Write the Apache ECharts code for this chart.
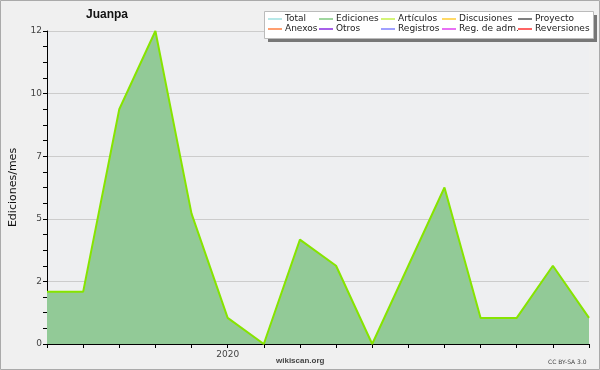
<!DOCTYPE html>
<html><head><meta charset="utf-8">
<script src="https://cdn.jsdelivr.net/npm/echarts@6/dist/echarts.min.js"></script>
<style>html,body{margin:0;padding:0;background:#f0f0f0}#c{width:600px;height:370px}</style>
</head><body><div id="c"></div>
<script>
// ---- data ----
const months = ['2019-08','2019-09','2019-10','2019-11','2019-12','2020-01','2020-02','2020-03','2020-04','2020-05','2020-06','2020-07','2020-08','2020-09','2020-10','2020-11'];
const edicionesValues = [2,2,9,12,5,1,0,4,3,0,3,6,1,1,3,1];
const articulosValues = [2,2,9,12,5,1,0,4,3,0,3,6,1,1,3,1];
const yTickLabels = ['0','2','5','7','10','12'];
const legendNames = ['Total','Ediciones','Artículos','Discusiones','Proyecto','Anexos','Otros','Registros','Reg. de adm.','Reversiones'];
const legendColors = ['#9fe0e0','#7fc97f','#c4f04a','#ffcc33','#555555','#ff7f40','#8a2be2','#8080ff','#e040f0','#ff3030'];
const chartTitle = 'Juanpa';
const yName = 'Ediciones/mes';

const FONT = 'DejaVu Sans';
const chart = echarts.init(document.getElementById('c'), null, {renderer:'canvas'});

const colX = [268, 319, 381, 442, 518];
const legends = colX.map((x, c) => ({
  orient: 'vertical', left: x, top: 14, itemGap: 0, itemWidth: 14, itemHeight: 1.5,
  icon: 'rect', padding: 0, selectedMode: false,
  data: [legendNames[c], legendNames[c + 5]],
  textStyle: {fontFamily: FONT, fontSize: 9, color: '#222', lineHeight: 10, padding: [0,0,0,-2]}
}));

const series = legendNames.map((n, i) => {
  const s = {name: n, type: 'line', data: [], color: legendColors[i], symbol: 'none', animation: false};
  if (n === 'Ediciones') {
    s.data = edicionesValues;
    s.lineStyle = {width: 0};
    s.areaStyle = {color: '#92ca97', opacity: 1};
    s.z = 2;
  }
  if (n === 'Artículos') {
    s.data = articulosValues;
    s.lineStyle = {width: 2, color: '#86e400'};
    s.z = 3;
  }
  return s;
});

chart.setOption({
  animation: false,
  backgroundColor: '#f0f0f0',
  title: {text: chartTitle, left: 86, top: 9, padding: 0, textStyle: {fontFamily: 'Liberation Sans', fontWeight: 'bold', fontSize: 12, color: '#111'}},
  legend: legends,
  grid: {left: 47, right: 11, top: 31, bottom: 26, containLabel: false, outerBoundsMode: 'none', show: true, backgroundColor: '#eeeff1', borderWidth: 0},
  xAxis: {
    type: 'category', data: months, boundaryGap: false,
    axisLine: {lineStyle: {color: '#000', width: 1}},
    axisTick: {show: true, length: 4, inside: false, interval: 0, lineStyle: {color: '#000'}},
    axisLabel: {interval: 0, margin: 6, fontFamily: FONT, fontSize: 9, color: '#444',
      formatter: v => v.endsWith('-01') ? v.slice(0, 4) : ''},
    splitLine: {show: false}
  },
  yAxis: {
    type: 'value', min: 0, max: 12, interval: 2.4,
    name: yName, nameLocation: 'middle', nameGap: 28,
    nameTextStyle: {fontFamily: FONT, fontSize: 11, color: '#111'},
    axisLine: {show: true, lineStyle: {color: '#000', width: 1}},
    axisTick: {show: true, length: 4, lineStyle: {color: '#000'}},
    minorTick: {show: true, splitNumber: 4, length: 4, lineStyle: {color: '#000', width: 1}},
    axisLabel: {margin: 5, fontFamily: FONT, fontSize: 9, color: '#444', formatter: (v, i) => yTickLabels[i]},
    splitLine: {show: true, lineStyle: {color: '#cccccc', width: 1}}
  },
  graphic: [
    {type: 'rect', z: 1, silent: true, shape: {x: 0.5, y: 0.5, width: 599, height: 369}, style: {fill: null, stroke: '#aaaaaa', lineWidth: 1}},
    {type: 'rect', z: 1, silent: true, shape: {x: 268, y: 15, width: 329, height: 27}, style: {fill: '#777777'}},
    {type: 'rect', z: 2, silent: true, shape: {x: 264.5, y: 11.5, width: 329, height: 27}, style: {fill: '#ffffff', stroke: '#bbbbbb', lineWidth: 1}},
    {type: 'text', z: 2, silent: true, left: 276, top: 357, style: {text: 'wikiscan.org', fontFamily: 'Liberation Sans', fontWeight: 'bold', fontSize: 8, fill: '#444'}},
    {type: 'text', z: 2, silent: true, left: 548, top: 359, style: {text: 'CC BY-SA 3.0', fontFamily: FONT, fontSize: 6, fill: '#444'}}
  ],
  series: series
});
</script>
</body></html>
